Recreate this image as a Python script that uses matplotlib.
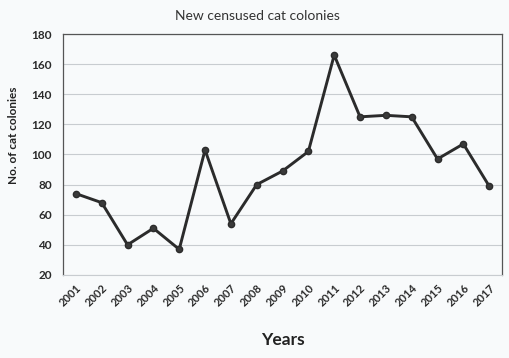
import numpy as np
import matplotlib.pyplot as plt

plt.rcParams.update({
    "font.family": ["Lato", "DejaVu Sans"],
})

years = [str(y) for y in range(2001, 2018)]
colonies = [74, 68, 40, 51, 37, 103, 54, 80, 89, 102, 166, 125, 126, 125, 97, 107, 79]

y_ticks = [20, 40, 60, 80, 100, 120, 140, 160, 180]

bg = "#f8fafb"

fig = plt.figure(figsize=(5.1, 3.58), dpi=100, facecolor=bg)
ax = fig.add_axes([0.1235, 0.232, 0.861, 0.673], facecolor=bg)

x = np.arange(len(years))
ax.plot(x, colonies, color="#2b2b2b", linewidth=2.1, marker="o",
        markersize=4.5, markerfacecolor="#3a3a3a", markeredgecolor="#2b2b2b", zorder=3)

ax.set_xlim(-0.5, len(years) - 0.5)
ax.set_ylim(20, 180)
ax.set_yticks(y_ticks)
ax.set_yticklabels([str(v) for v in y_ticks], fontsize=8.5, fontweight="bold", color="#2a2a2a")
ax.set_xticks(x)
ax.set_xticklabels(years, rotation=45, ha="right", rotation_mode="anchor",
                   fontsize=8, fontweight="bold", color="#2a2a2a")
ax.tick_params(axis="y", length=0, pad=8)
ax.tick_params(axis="x", length=0, pad=5)

ax.grid(axis="y", color="#c8ccd0", linewidth=0.8)
ax.set_axisbelow(True)
for side in ["left", "top", "right"]:
    ax.spines[side].set_color("#555555")
    ax.spines[side].set_linewidth(0.9)
ax.spines["bottom"].set_color("#c8ccd0")
ax.spines["bottom"].set_linewidth(0.8)

ax.set_ylabel("No. of cat colonies", fontsize=8.5, fontweight="bold", color="#222222")
ax.yaxis.set_label_coords(-0.1, 0.58)
fig.text(0.505, 0.955, "New censused cat colonies", fontsize=10, color="#333333",
         ha="center", va="center")
fig.text(0.555, 0.035, "Years", fontsize=12.5, fontweight="bold", color="#222222", ha="center")

fig.savefig("out.png", dpi=100, facecolor=bg)
